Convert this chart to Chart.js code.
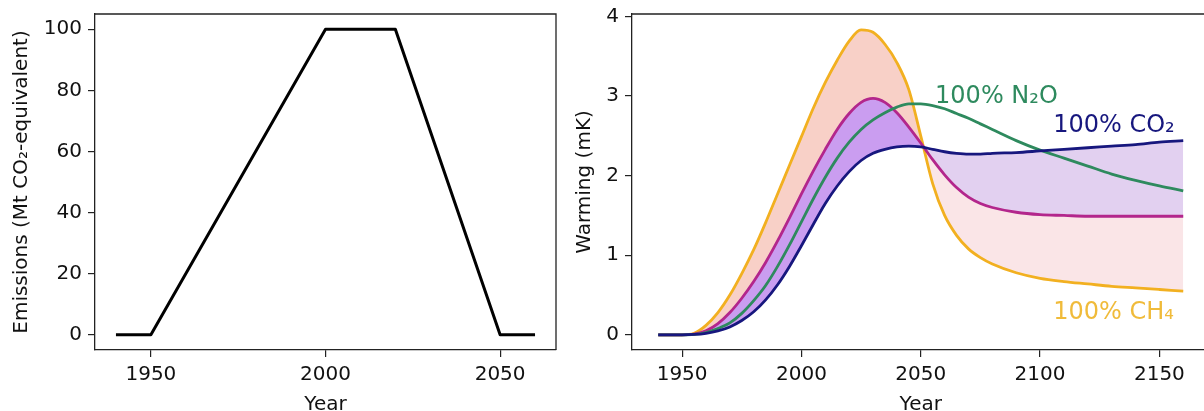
<!DOCTYPE html>
<html>
<head>
<meta charset="utf-8">
<script src="https://cdn.jsdelivr.net/npm/chart.js@4.4.1/dist/chart.umd.min.js"></script>
<style>
  html, body { margin: 0; padding: 0; background: #fff; overflow: hidden; width: 1204px; height: 411px; }
  #left { position: absolute; left: 0; top: 0; }
  #right { position: absolute; left: 570px; top: 0; }
</style>
</head>
<body>
<canvas id="left" width="570" height="430"></canvas>
<canvas id="right" width="660" height="430"></canvas>
<script>
// left panel: emissions profile
const emisYears = [1940, 1950, 2000, 2020, 2050, 2060];
const emisValues = [0, 0, 100, 100, 0, 0];
const emisXTicks = [1950, 2000, 2050];
const emisYTicks = [0, 20, 40, 60, 80, 100];

// right panel: warming response (mK)
const years = [1940, 1950, 1955, 1960, 1965, 1970, 1975, 1980, 1985, 1990, 1995, 2000,
  2005, 2010, 2015, 2020, 2025, 2030, 2035, 2040, 2045, 2050, 2055, 2060, 2065, 2070,
  2075, 2080, 2090, 2100, 2110, 2120, 2130, 2140, 2150, 2160];
const ch4 = [0, 0, 0.02, 0.12, 0.28, 0.5, 0.77, 1.07, 1.41, 1.77, 2.13, 2.49,
  2.85, 3.17, 3.45, 3.69, 3.83, 3.8, 3.65, 3.42, 3.08, 2.5, 1.9, 1.5, 1.25, 1.08,
  0.97, 0.89, 0.78, 0.71, 0.67, 0.64, 0.61, 0.59, 0.57, 0.55];
const mix50 = [0, 0, 0.01, 0.05, 0.14, 0.28, 0.46, 0.67, 0.91, 1.18, 1.47, 1.77,
  2.06, 2.33, 2.58, 2.78, 2.92, 2.97, 2.92, 2.79, 2.61, 2.41, 2.2, 2.01, 1.85, 1.73,
  1.65, 1.6, 1.54, 1.51, 1.5, 1.49, 1.49, 1.49, 1.49, 1.49];
const n2o = [0, 0, 0.005, 0.03, 0.08, 0.15, 0.27, 0.43, 0.62, 0.86, 1.13, 1.42,
  1.71, 1.98, 2.22, 2.42, 2.58, 2.7, 2.79, 2.86, 2.9, 2.9, 2.88, 2.84, 2.78, 2.72,
  2.65, 2.58, 2.44, 2.32, 2.22, 2.12, 2.02, 1.94, 1.87, 1.81];
const co2 = [0, 0, 0.005, 0.02, 0.05, 0.1, 0.18, 0.29, 0.44, 0.63, 0.86, 1.12,
  1.39, 1.65, 1.87, 2.05, 2.19, 2.28, 2.33, 2.36, 2.37, 2.36, 2.33, 2.3, 2.28, 2.27,
  2.27, 2.28, 2.29, 2.31, 2.33, 2.35, 2.37, 2.39, 2.42, 2.44];
const warmXTicks = [1950, 2000, 2050, 2100, 2150];
const warmYTicks = [0, 1, 2, 3, 4];

const FONT = 'DejaVu Sans';
const INK = '#222';
const YELLOW = '#f2b020', MAGENTA = '#b3268c', GREEN = '#2e8a5e', NAVY = '#17177e';

function pairs(xs, ys) {
  return xs.map((x, i) => ({ x: x, y: ys[i] }));
}

function axis(opts, ticks, size, isX, title, titlePad) {
  return Object.assign({
    type: 'linear',
    afterBuildTicks: a => { a.ticks = ticks.map(v => ({ value: v })); },
    afterFit: a => {
      if (isX) a.height = size; else a.width = size;
      a.paddingTop = 0; a.paddingBottom = 0; a.paddingLeft = 0; a.paddingRight = 0;
    },
    grid: { display: true, drawOnChartArea: false, drawTicks: true, tickLength: 7, color: INK, lineWidth: 1.2 },
    border: { display: true, color: INK, width: 1.3 },
    ticks: { color: '#111', font: { family: FONT, size: 20 }, padding: 6, callback: v => String(v) },
    title: { display: true, text: title, color: '#111', font: { family: FONT, size: 20 }, padding: titlePad }
  }, opts);
}

// top and right sides of the axes box
const frame = {
  id: 'frame',
  afterDraw(chart) {
    const { ctx, chartArea: a } = chart;
    ctx.save();
    ctx.strokeStyle = INK;
    ctx.lineWidth = 1.3;
    ctx.beginPath();
    ctx.moveTo(a.left, a.top);
    ctx.lineTo(a.right, a.top);
    ctx.lineTo(a.right, a.bottom);
    ctx.stroke();
    ctx.restore();
  }
};

const common = {
  responsive: false,
  animation: false,
  devicePixelRatio: 1,
  events: [],
  plugins: { legend: { display: false }, tooltip: { enabled: false } }
};

new Chart(document.getElementById('left'), {
  type: 'line',
  data: {
    datasets: [{
      data: pairs(emisYears, emisValues),
      borderColor: '#000',
      borderWidth: 3,
      borderJoinStyle: 'round',
      pointRadius: 0,
      tension: 0
    }]
  },
  options: Object.assign({}, common, {
    layout: { padding: { left: 0, top: 14, right: 14, bottom: 0 } },
    scales: {
      x: axis({ min: 1934, max: 2066 }, emisXTicks, 80, true, 'Year', { top: 0, bottom: 13 }),
      y: axis({ min: -5, max: 105 }, emisYTicks, 95, false, 'Emissions (Mt CO\u2082-equivalent)', { top: 10, bottom: 0 })
    }
  }),
  plugins: [frame]
});

// curve labels, placed in data units
const curveLabels = {
  id: 'curveLabels',
  afterDatasetsDraw(chart) {
    const { ctx, scales } = chart;
    const items = [
      { text: '100% N\u2082O', x: 2056, y: 2.99, color: GREEN },
      { text: '100% CO\u2082', x: 2105.5, y: 2.62, color: NAVY },
      { text: '100% CH\u2084', x: 2105.5, y: 0.28, color: '#f0bb3a' }
    ];
    ctx.save();
    ctx.font = '24px "' + FONT + '"';
    ctx.textAlign = 'left';
    ctx.textBaseline = 'middle';
    items.forEach(it => {
      ctx.fillStyle = it.color;
      ctx.fillText(it.text, scales.x.getPixelForValue(it.x), scales.y.getPixelForValue(it.y));
    });
    ctx.restore();
  }
};

function curve(values, color, fill) {
  return {
    data: pairs(years, values),
    borderColor: color,
    borderWidth: 2.8,
    pointRadius: 0,
    cubicInterpolationMode: 'monotone',
    fill: fill || false
  };
}

new Chart(document.getElementById('right'), {
  type: 'line',
  data: {
    datasets: [
      curve(co2, NAVY),
      curve(n2o, GREEN),
      curve(mix50, MAGENTA, { target: 0, above: 'rgba(150,60,225,0.5)', below: 'rgba(160,100,205,0.3)' }),
      curve(ch4, YELLOW, { target: 2, above: 'rgba(240,150,130,0.45)', below: 'rgba(235,150,160,0.25)' })
    ]
  },
  options: Object.assign({}, common, {
    layout: { padding: { left: 0, top: 14, right: 20.5, bottom: 0 } },
    plugins: Object.assign({}, common.plugins, { filler: { drawTime: 'beforeDatasetsDraw' } }),
    scales: {
      x: axis({ min: 1929, max: 2171 }, warmXTicks, 80, true, 'Year', { top: 0, bottom: 13 }),
      y: axis({ min: -0.19, max: 4.03 }, warmYTicks, 62, false, 'Warming (mK)', { top: 3, bottom: 0 })
    }
  }),
  plugins: [frame, curveLabels]
});
</script>
</body>
</html>
